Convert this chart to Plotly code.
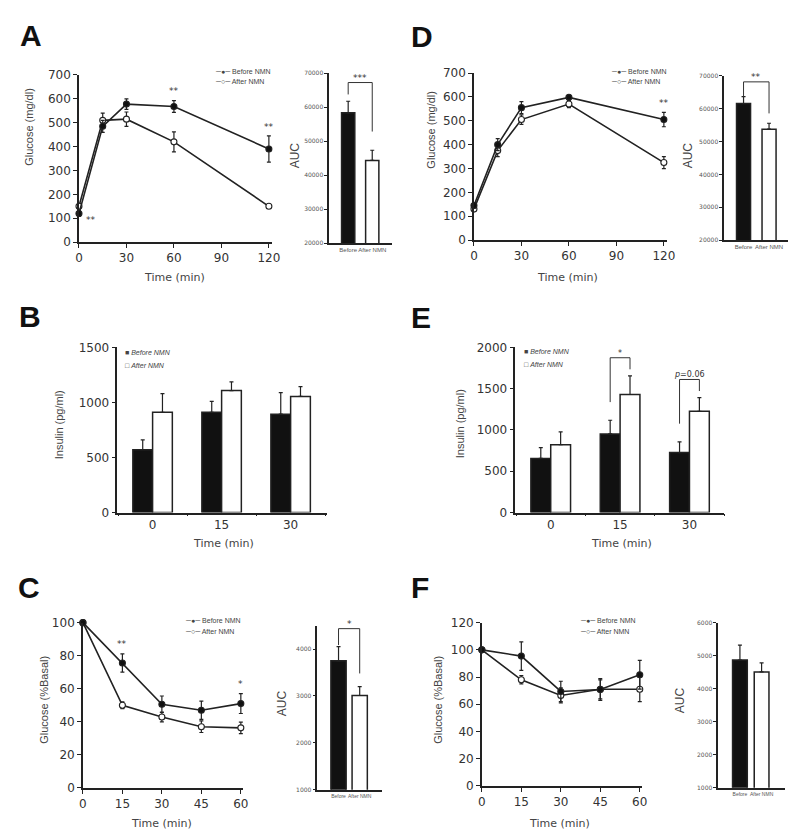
import plotly.graph_objects as go

W, H = 800, 836
def fx(p): return p / W
def fy(p): return 1 - p / H

# ---------------- data ----------------
ogtt_time = [0, 15, 30, 60, 120]
A_before = [120, 485, 578, 568, 390]
A_before_err = [12, 25, 22, 25, 55]
A_after = [150, 510, 515, 420, 150]
A_after_err = [10, 30, 30, 42, 8]
A_sig = ["**", "", "", "**", "**"]

auc_labels = ["Before", "After NMN"]
A_auc = [58300, 44300]
A_auc_err = [3400, 3000]
A_auc_sig = "***"

D_before = [145, 400, 555, 598, 505]
D_before_err = [10, 25, 25, 8, 30]
D_after = [130, 375, 505, 570, 325]
D_after_err = [8, 25, 20, 15, 25]
D_sig = ["", "", "", "", "**"]
D_auc = [61600, 53800]
D_auc_err = [2100, 1800]
D_auc_sig = "**"

ins_time = ["0", "15", "30"]
B_before = [570, 910, 893]
B_before_err = [90, 100, 195]
B_after = [910, 1107, 1054]
B_after_err = [170, 80, 90]

E_before = [655, 952, 726]
E_before_err = [130, 165, 130]
E_after = [821, 1429, 1226]
E_after_err = [155, 225, 165]
E_sig = ["", "*", "<i>p</i>=0.06"]

itt_time = [0, 15, 30, 45, 60]
C_before = [100, 75.6, 50.6, 47, 51]
C_before_err = [0, 5.5, 5, 5.5, 6]
C_after = [100, 50, 42.9, 37, 36.3]
C_after_err = [0, 2, 3, 3.5, 3.5]
C_sig = ["", "**", "", "", "*"]
C_auc = [3750, 3010]
C_auc_err = [300, 190]
C_auc_sig = "*"

F_before = [100, 95.4, 69.4, 70.9, 81.7]
F_before_err = [0, 10.5, 7.5, 8, 10.5]
F_after = [100, 78, 66.5, 71, 71]
F_after_err = [0, 3, 5.5, 7, 9]
F_auc = [4870, 4510]
F_auc_err = [450, 270]

# ---------------- style ----------------
INK = "#222"
TICKFONT = dict(family="DejaVu Sans", size=12, color="#333")
SMALLFONT = dict(family="DejaVu Sans", size=6, color="#555")

fig = go.Figure()
annotations = []
shapes = []

def axis(n, xdom, ydom, xkw, ykw):
    xa = dict(domain=[fx(xdom[0]), fx(xdom[1])], anchor="y%d" % n if n > 1 else "y",
              showline=True, linecolor=INK, linewidth=1.5, showgrid=False, zeroline=False,
              ticks="outside", ticklen=4, tickwidth=1.2, tickcolor=INK, tickfont=TICKFONT,
              tickangle=0, fixedrange=True)
    ya = dict(domain=[fy(ydom[1]), fy(ydom[0])], anchor="x%d" % n if n > 1 else "x",
              showline=True, linecolor=INK, linewidth=1.5, showgrid=False, zeroline=False,
              ticks="outside", ticklen=4, tickwidth=1.2, tickcolor=INK, tickfont=TICKFONT,
              tickformat="d", fixedrange=True)
    xa.update(xkw)
    ya.update(ykw)
    key = "" if n == 1 else str(n)
    fig.layout["xaxis" + key] = xa
    fig.layout["yaxis" + key] = ya

def refs(n):
    return ("x", "y") if n == 1 else ("x%d" % n, "y%d" % n)

def line_panel(n, t, before, berr, after, aerr, sig, sig_off):
    xr, yr = refs(n)
    for vals, errs, fill in ((after, aerr, "white"), (before, berr, "#111")):
        fig.add_trace(go.Scatter(
            x=t, y=vals, xaxis=xr, yaxis=yr, mode="lines+markers",
            line=dict(color=INK, width=1.6),
            marker=dict(symbol="circle", size=6, color=fill, line=dict(color=INK, width=1.1)),
            error_y=dict(type="data", array=errs, color=INK, thickness=1.2, width=2),
            cliponaxis=False, showlegend=False, hoverinfo="skip"))
    for i, s in enumerate(sig):
        if not s:
            continue
        if i == 0:
            annotations.append(dict(x=t[i], y=before[i], xref=xr, yref=yr, text=s, showarrow=False,
                                    xanchor="left", yanchor="middle", xshift=5, yshift=-7,
                                    font=dict(family="DejaVu Sans", size=9, color="#333")))
        else:
            top = max(before[i] + berr[i], after[i] + aerr[i])
            annotations.append(dict(x=t[i], y=top + sig_off, xref=xr, yref=yr, text=s, showarrow=False,
                                    xanchor="center", yanchor="middle",
                                    font=dict(family="DejaVu Sans", size=9, color="#333")))

def bracket(xr, yr, x0, x1, yl, yrgt, ytop, text, font_size=9):
    for (a, b, c, d) in ((x0, yl, x0, ytop), (x0, ytop, x1, ytop), (x1, ytop, x1, yrgt)):
        shapes.append(dict(type="line", xref=xr, yref=yr, x0=a, y0=b, x1=c, y1=d,
                           line=dict(color="#333", width=1)))
    annotations.append(dict(x=(x0 + x1) / 2, y=ytop, xref=xr, yref=yr, text=text, showarrow=False,
                            xanchor="center", yanchor="bottom", yshift=-2,
                            font=dict(family="DejaVu Sans", size=font_size, color="#333")))

def auc_panel(n, vals, errs, width, sig=None, rng=None, offs=(0.1, 0.03, 0.1)):
    xr, yr = refs(n)
    fig.add_trace(go.Bar(
        x=auc_labels, y=vals, xaxis=xr, yaxis=yr, width=width,
        marker=dict(color=["#111", "white"], line=dict(color=INK, width=1.5)),
        error_y=dict(type="data", array=errs, arrayminus=[0] * len(errs), symmetric=False,
                     color=INK, thickness=1.2, width=2),
        showlegend=False, hoverinfo="skip"))
    if sig:
        span = rng[1] - rng[0]
        tb = vals[0] + errs[0]
        ta = vals[1] + errs[1]
        bracket(xr, yr, 0, 1, tb + offs[1] * span, ta + offs[2] * span,
                max(tb, ta) + offs[0] * span, sig)

def insulin_panel(n, before, berr, after, aerr, sig=None):
    xr, yr = refs(n)
    bw = 0.286
    for vals, errs, fill, off in ((before, berr, "#111", -bw), (after, aerr, "white", 0)):
        fig.add_trace(go.Bar(
            x=ins_time, y=vals, xaxis=xr, yaxis=yr, width=bw, offset=off,
            marker=dict(color=fill, line=dict(color=INK, width=1.5)),
            error_y=dict(type="data", array=errs, arrayminus=[0] * len(errs), symmetric=False,
                         color=INK, thickness=1.2, width=2),
            showlegend=False, hoverinfo="skip"))
    if sig:
        for i, s in enumerate(sig):
            if not s:
                continue
            tb = before[i] + berr[i]
            ta = after[i] + aerr[i]
            bracket(xr, yr, i - bw / 2, i + bw / 2, tb + 220, ta + 80, ta + 220, s, font_size=8)

# ---------------- axes ----------------
line_x_A = dict(range=[0, 122], tickvals=[0, 30, 60, 90, 120])
line_x_C = dict(range=[0, 61], tickvals=[0, 15, 30, 45, 60])
auc_tick = dict(ticks="outside", ticklen=3, tickfont=SMALLFONT)
auc_x = dict(ticks="", tickfont=dict(family="Liberation Sans", size=6, color="#555"), type="category", tickangle=0)
auc_x_small = dict(auc_x, tickfont=dict(family="Liberation Sans", size=5, color="#555"))

axis(1, (68, 264), (61, 231), line_x_A, dict(range=[0, 700], dtick=100))
axis(2, (322, 386), (59, 232), dict(auc_x, range=[-0.79, 1.83]), dict(auc_tick, range=[20000, 70000], dtick=10000))
axis(3, (469, 665), (59, 229), line_x_A, dict(range=[0, 700], dtick=100))
axis(4, (723, 788), (62, 229), dict(auc_x, range=[-0.76, 1.75]), dict(auc_tick, range=[20000, 70000], dtick=10000))
axis(5, (107, 320), (338, 506), dict(type="category", range=[-0.51, 2.53], tickson="boundaries", ticklen=2),
     dict(range=[0, 1500], dtick=500))
axis(6, (511, 723), (338, 506), dict(type="category", range=[-0.51, 2.5], tickson="boundaries", ticklen=2),
     dict(range=[0, 2000], dtick=500))
axis(7, (72, 235), (618, 786), line_x_C, dict(range=[0, 100], dtick=20))
axis(8, (310, 376), (621, 788), dict(auc_x_small, range=[-1.0, 2.07]), dict(auc_tick, range=[1000, 4500], tickvals=[1000, 2000, 3000, 4000]))
axis(9, (477, 640), (618, 784), line_x_C, dict(range=[0, 120], dtick=20))
axis(10, (717, 785), (618, 786), dict(auc_x_small, range=[-1.0, 2.09]), dict(auc_tick, range=[1000, 6000], dtick=1000))

# ---------------- traces ----------------
line_panel(1, ogtt_time, A_before, A_before_err, A_after, A_after_err, A_sig, 38)
auc_panel(2, A_auc, A_auc_err, 0.55, A_auc_sig, (20000, 70000), (0.11, 0.04, 0.11))
line_panel(3, ogtt_time, D_before, D_before_err, D_after, D_after_err, D_sig, 40)
auc_panel(4, D_auc, D_auc_err, 0.55, D_auc_sig, (20000, 70000), (0.09, 0.0, 0.06))
insulin_panel(5, B_before, B_before_err, B_after, B_after_err)
insulin_panel(6, E_before, E_before_err, E_after, E_after_err, E_sig)
line_panel(7, itt_time, C_before, C_before_err, C_after, C_after_err, C_sig, 6)
auc_panel(8, C_auc, C_auc_err, 0.72, C_auc_sig, (1000, 4500), (0.11, 0.01, 0.08))
line_panel(9, itt_time, F_before, F_before_err, F_after, F_after_err, [""] * 5, 6)
auc_panel(10, F_auc, F_auc_err, 0.68)

# ---------------- text ----------------
def text(x, y, s, size=11, family="Liberation Sans", color="#444", angle=0, xanchor="center", bold=False):
    annotations.append(dict(x=fx(x), y=fy(y), xref="paper", yref="paper", text=("<b>%s</b>" % s) if bold else s,
                            showarrow=False, textangle=angle, xanchor=xanchor, yanchor="middle",
                            font=dict(family=family, size=size, color=color)))

for letter, x, y in (("A", 19, 21), ("D", 416, 22), ("B", 18, 307), ("E", 415, 308), ("C", 17, 582), ("F", 414, 582)):
    text(x, y, letter, size=30, family="Liberation Sans", color="#111", bold=True)

# y titles
text(17, 114, "Glucose (mg/dl)", angle=-90)
text(425, 117, "Glucose (mg/dl)", angle=-90)
text(48, 417, "Insulin (pg/ml)", angle=-90)
text(455, 416, "Insulin (pg/ml)", angle=-90)
text(33, 697, "Glucose (%Basal)", angle=-90)
text(433, 697, "Glucose (%Basal)", angle=-90)
text(287, 143, "AUC", angle=-90, size=12)
text(686, 143, "AUC", angle=-90, size=12)
text(274, 700, "AUC", angle=-90, size=12)
text(678, 697, "AUC", angle=-90, size=12)
# x titles
for x, y in ((165, 267), (564, 267), (215, 537), (619, 537), (152, 822), (556, 822)):
    text(x, y, "Time (min)", size=11, family="DejaVu Sans")

# legends
LEG = "Liberation Sans"
for x, y in ((204, 57), (606, 57), (174, 616), (575, 616)):
    text(x, y, "\u2500\u25cf\u2500 Before NMN", size=7, family=LEG, color="#444", xanchor="left")
    text(x, y + 11, "\u2500\u25cb\u2500 After NMN", size=7, family=LEG, color="#444", xanchor="left")
for x, y in ((113, 343), (518, 342)):
    text(x, y, "\u25a0 <i>Before NMN</i>", size=7, family=LEG, color="#444", xanchor="left")
    text(x, y + 13, "\u25a1 <i>After NMN</i>", size=7, family=LEG, color="#444", xanchor="left")

fig.update_layout(width=W, height=H, margin=dict(l=0, r=0, t=0, b=0),
                  paper_bgcolor="white", plot_bgcolor="white",
                  annotations=annotations, shapes=shapes, barmode="overlay")
fig.write_html("out.html")
